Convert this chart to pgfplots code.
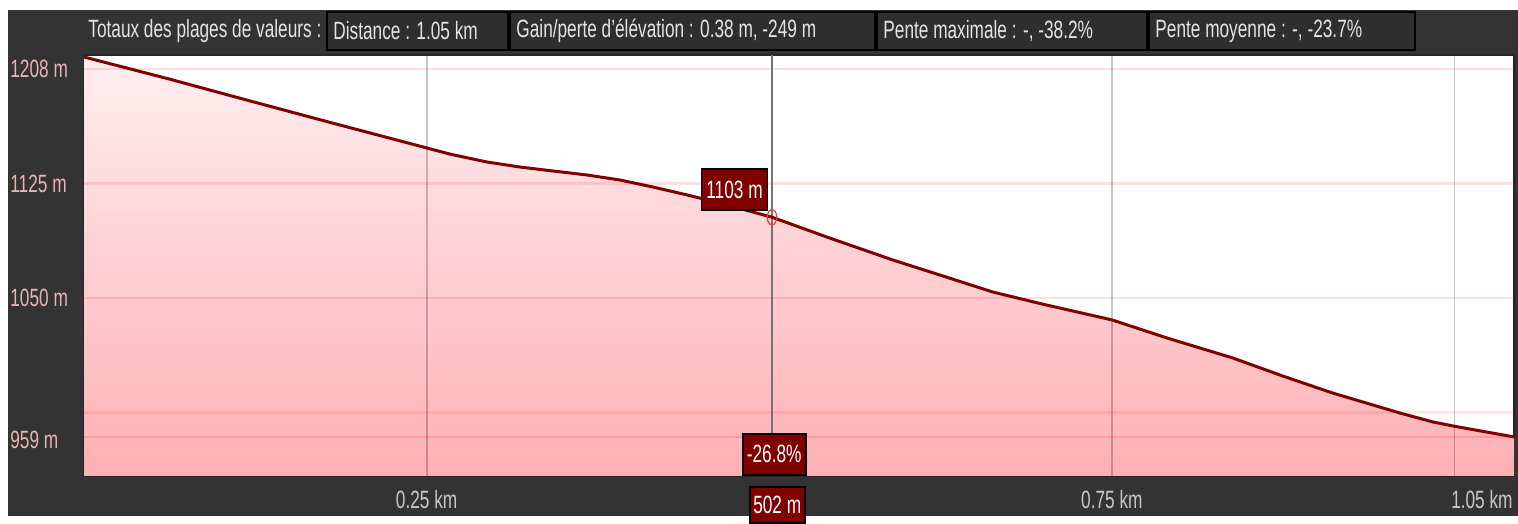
\documentclass[border=0pt]{standalone}
\usepackage{fontspec}
\setmainfont{Liberation Sans}[FakeStretch=0.69]
\usepackage{pgfplots}
\pgfplotsset{compat=1.18}
\definecolor{bg}{RGB}{51,51,51}
\definecolor{hdr}{RGB}{46,46,46}
\definecolor{curve}{RGB}{128,0,0}
\definecolor{ylab}{RGB}{232,180,180}
\definecolor{xlab}{RGB}{200,200,200}
\definecolor{txt}{RGB}{228,228,228}
\definecolor{filltop}{RGB}{255,238,240}
\definecolor{fillbot}{RGB}{255,176,180}
\definecolor{cursor}{RGB}{115,115,115}
\newcommand\lbl{\fontsize{12.5}{14}\selectfont}
\pgfplotstableread{
km elev
0.0000 1208.0
0.0624 1193.5
0.1186 1179.8
0.1800 1165.0
0.2500 1148.4
0.2668 1144.4
0.2938 1139.2
0.3179 1135.9
0.3420 1133.3
0.3668 1130.7
0.3909 1127.4
0.4150 1122.8
0.4400 1117.6
0.4639 1112.3
0.4880 1106.4
0.5020 1103.0
0.5420 1090.0
0.5900 1075.0
0.6266 1064.5
0.6630 1054.0
0.6996 1046.0
0.7500 1035.7
0.7900 1023.9
0.8380 1010.8
0.8750 998.8
0.9110 987.8
0.9600 974.7
0.9843 968.8
1.0000 966.0
1.0434 959.0
}\profile
\begin{document}
\begin{tikzpicture}
% page and background
\path[fill=white] (0pt,0pt) rectangle (759pt,258pt);
\fill[bg] (4pt,0pt) rectangle (759pt,253pt);
% header
\node[anchor=west, text=txt, inner sep=0pt, font=\lbl] at (44pt,242.5pt) {Totaux des plages de valeurs :};
\draw[black, line width=1pt, fill=hdr] (163.5pt,233pt) rectangle (254pt,252pt);
\draw[black, line width=1pt, fill=hdr] (255pt,233pt) rectangle (437.5pt,252pt);
\draw[black, line width=1pt, fill=hdr] (438.5pt,233pt) rectangle (573.5pt,252pt);
\draw[black, line width=1pt, fill=hdr] (574.5pt,233pt) rectangle (707.5pt,252pt);
\node[anchor=west, text=txt, inner sep=0pt, font=\lbl] at (166.5pt,242.5pt) {Distance : 1.05 km};
\node[anchor=west, text=txt, inner sep=0pt, font=\lbl] at (258pt,242.5pt) {Gain/perte d'élévation : 0.38 m, -249 m};
\node[anchor=west, text=txt, inner sep=0pt, font=\lbl] at (441.5pt,242.5pt) {Pente maximale : -, -38.2\%};
\node[anchor=west, text=txt, inner sep=0pt, font=\lbl] at (577.5pt,242.5pt) {Pente moyenne : -, -23.7\%};
\begin{axis}[
  at={(42pt,20pt)}, anchor=south west,
  scale only axis, width=715pt, height=210.5pt,
  xmin=0, xmax=1.0434, ymin=933.4, ymax=1209.3,
  clip=false,
  axis background/.style={fill=white},
  axis line style={draw=black!85, line width=1pt},
  major tick length=0pt,
  xtick={0.25,0.75}, xticklabels={0.25 km,0.75 km},
  extra x ticks={1.0434}, extra x tick labels={1.05 km},
  extra x tick style={xticklabel style={anchor=base east, xshift=-0.5pt}},
  xticklabel style={text=xlab, font=\lbl, anchor=base, inner sep=0pt, yshift=-16.5pt},
  ytick={957,1050,1125,1200}, yticklabels={959 m,1050 m,1125 m,1208 m},
  yticklabel style={text=ylab, font=\lbl, anchor=west, inner sep=0pt, xshift=-37pt},
]
% area under the profile
\addplot[draw=none, top color=filltop, bottom color=fillbot] table[x=km, y=elev] {\profile} \closedcycle;
% horizontal grid lines
\foreach \yy/\op in {1200/0.12, 1125/0.12, 1050/0.12, 975/0.09, 959/0.16} {
  \edef\tmp{\noexpand\draw[red, opacity=\op, line width=1.3pt] (axis cs:0,\yy) -- (axis cs:1.0434,\yy);}
  \tmp
}
% vertical grid lines
\foreach \xx in {0.25,0.75,1.0} {
  \edef\tmp{\noexpand\draw[black, opacity=0.22, line width=0.9pt] (axis cs:\xx,933.4) -- (axis cs:\xx,1209.3);}
  \tmp
}
% cursor line
\draw[cursor, line width=1.3pt] (axis cs:0.502,933.4) -- (axis cs:0.502,1209.3);
% profile
\addplot[curve, line width=1.5pt] table[x=km, y=elev] {\profile};
% cursor point
\addplot[only marks, mark=o, mark size=3.8pt, mark options={draw=red!80, line width=0.6pt, xscale=0.62}] coordinates {(0.502,1103)};
% cursor labels
\node[draw=black, line width=0.8pt, fill=curve, text=white, font=\lbl, inner sep=0pt,
      minimum width=33pt, minimum height=20.5pt, anchor=south east] at (axis cs:0.4993,1107.1) {1103 m};
\node[draw=black, line width=0.8pt, fill=curve, text=white, font=\lbl, inner sep=0pt,
      minimum width=31.5pt, minimum height=20.5pt, anchor=south] at (axis cs:0.5036,933.6) {-26.8\%};
\node[draw=black, line width=0.8pt, fill=curve, text=white, font=\lbl, inner sep=0pt,
      minimum width=27.5pt, minimum height=18pt, anchor=north] at (axis cs:0.5058,926.7) {502 m};
\end{axis}
\end{tikzpicture}
\end{document}
